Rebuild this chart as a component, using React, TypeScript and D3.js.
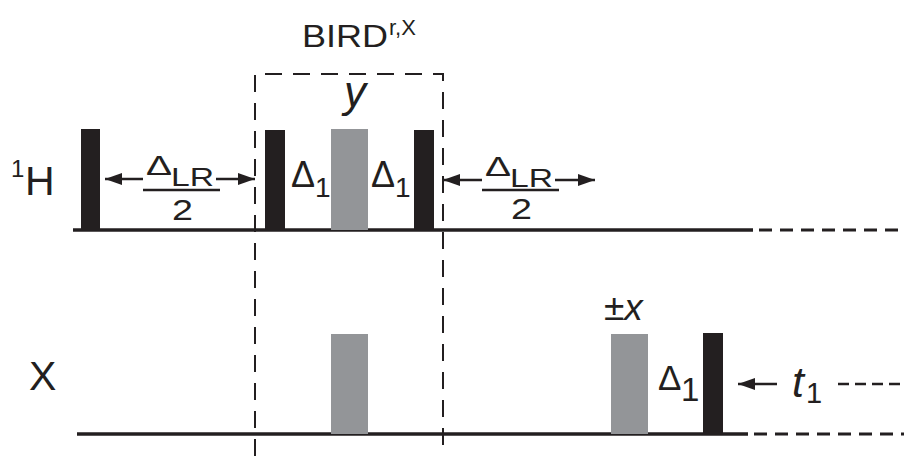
import { useEffect, useRef } from "react";
import * as d3 from "d3";

// channels of the pulse sequence and where their baselines sit
const channels = ["1H", "X"];
const baselineY = [230, 434];

// pulses: channel, start, end (time axis units), top of the pulse, kind
const pulseChannel = ["1H", "1H", "1H", "1H", "X", "X", "X"];
const pulseStart = [81, 265, 331, 414, 331, 611, 703];
const pulseEnd = [100, 285, 368, 434, 368, 648, 723];
const pulseTop = [129, 130, 129, 130, 334, 334, 333];
const pulseKind = ["hard", "hard", "soft", "hard", "soft", "soft", "hard"];

// solid part of the baselines, then dashed continuation
const solidStart = [73, 77];
const solidEnd = [753, 748];
const lineEnd = [904, 904];

// BIRD box
const birdLeft = 255;
const birdRight = 443;
const birdTop = 74;

// Δ_LR/2 delays: arrow tips and the span of the fraction
const delayFrom = [105, 443];
const delayTo = [255, 595];
const delayTextFrom = [143, 482];
const delayTextTo = [218, 557];
const delayArrowY = [179, 180];

const INK = "#231f20";
const GREY = "#939598";

function App() {
  const ref = useRef<SVGGElement | null>(null);

  useEffect(() => {
    const root = d3.select(ref.current);
    root.selectAll("*").remove();

    const x = d3.scaleLinear().domain([0, 904]).range([0, 904]);
    const y = d3.scaleOrdinal<string, number>().domain(channels).range(baselineY);

    const defs = root.append("defs");
    defs
      .append("marker")
      .attr("id", "head")
      .attr("viewBox", "0 0 17 12")
      .attr("refX", 17)
      .attr("refY", 6)
      .attr("markerWidth", 17)
      .attr("markerHeight", 12)
      .attr("markerUnits", "userSpaceOnUse")
      .attr("orient", "auto")
      .append("path")
      .attr("d", "M0,0 L17,6 L0,12 Z")
      .attr("fill", INK);

    const g = root.append("g");

    // BIRD box (dashed)
    g.append("path")
      .attr("d", `M${x(birdLeft)},456 V${birdTop} H${x(birdRight)} V456`)
      .attr("fill", "none")
      .attr("stroke", INK)
      .attr("stroke-width", 2)
      .attr("stroke-dasharray", "17,11");

    // baselines
    channels.forEach((c, i) => {
      g.append("line")
        .attr("x1", x(solidStart[i]))
        .attr("x2", x(solidEnd[i]))
        .attr("y1", y(c))
        .attr("y2", y(c))
        .attr("stroke", INK)
        .attr("stroke-width", 3.5);
      g.append("line")
        .attr("x1", x(solidEnd[i]) + 6)
        .attr("x2", x(lineEnd[i]))
        .attr("y1", y(c))
        .attr("y2", y(c))
        .attr("stroke", INK)
        .attr("stroke-width", 3)
        .attr("stroke-dasharray", "13,8");
    });

    // pulses
    g.selectAll(".pulse")
      .data(d3.range(pulseStart.length))
      .enter()
      .append("rect")
      .attr("class", "pulse")
      .attr("x", (i) => x(pulseStart[i]))
      .attr("width", (i) => x(pulseEnd[i]) - x(pulseStart[i]))
      .attr("y", (i) => pulseTop[i])
      .attr("height", (i) => y(pulseChannel[i]) - pulseTop[i])
      .attr("fill", (i) => (pulseKind[i] === "hard" ? INK : GREY));

    // Δ_LR / 2 double arrows
    delayFrom.forEach((from, i) => {
      const ay = delayArrowY[i];
      g.append("line")
        .attr("x1", x(delayTextFrom[i]))
        .attr("x2", x(from))
        .attr("y1", ay)
        .attr("y2", ay)
        .attr("stroke", INK)
        .attr("stroke-width", 2.5)
        .attr("marker-end", "url(#head)");
      g.append("line")
        .attr("x1", x(delayTextTo[i]) - 2)
        .attr("x2", x(delayTo[i]))
        .attr("y1", ay)
        .attr("y2", ay)
        .attr("stroke", INK)
        .attr("stroke-width", 2.5)
        .attr("marker-end", "url(#head)");
      g.append("line")
        .attr("x1", x(delayTextFrom[i]))
        .attr("x2", x(delayTextTo[i]) + 2)
        .attr("y1", 190)
        .attr("y2", 190)
        .attr("stroke", INK)
        .attr("stroke-width", 2.5);
    });

    // t1 arrow and dashed continuation
    g.append("line")
      .attr("x1", x(777))
      .attr("x2", x(738))
      .attr("y1", 384)
      .attr("y2", 384)
      .attr("stroke", INK)
      .attr("stroke-width", 2.5)
      .attr("marker-end", "url(#head)");
    g.append("line")
      .attr("x1", x(838))
      .attr("x2", x(904))
      .attr("y1", 384)
      .attr("y2", 384)
      .attr("stroke", INK)
      .attr("stroke-width", 2.5)
      .attr("stroke-dasharray", "11,6");
  }, []);

  const font = "'Liberation Sans', Arial, Helvetica, sans-serif";
  return (
    <svg
      width={904}
      height={456}
      style={{ position: "absolute", left: 0, top: 0, background: "#fff" }}
      fontFamily={font}
      fill={INK}
    >
      <g ref={ref}></g>
      <g>
        <text x={11} y={177} fontSize={24}>1</text>
        <text x={25} y={195} fontSize={41}>H</text>
        <text x={29} y={390} fontSize={41}>X</text>

        <text x={302} y={47} fontSize={31} textLength={86} lengthAdjust="spacingAndGlyphs">BIRD</text>
        <text x={389} y={35} fontSize={22}>r,X</text>

        <text x={355} y={107} fontSize={44} fontStyle="italic" textAnchor="middle">y</text>

        {delayTextFrom.map((t, i) => (
          <g key={i}>
            <text x={t + 3} y={175 + i} fontSize={28} textLength={26} lengthAdjust="spacingAndGlyphs">Δ</text>
            <text x={t + 28} y={186 + i} fontSize={25} textLength={43} lengthAdjust="spacingAndGlyphs">LR</text>
            <text x={t + 29} y={220 - i} fontSize={29} textLength={21} lengthAdjust="spacingAndGlyphs">2</text>
          </g>
        ))}

        <text x={291} y={187} fontSize={36}>Δ</text>
        <text x={315} y={197} fontSize={28}>1</text>
        <text x={371} y={187} fontSize={36}>Δ</text>
        <text x={395} y={197} fontSize={28}>1</text>

        <text x={604} y={320} fontSize={37}>±<tspan fontStyle="italic">x</tspan></text>

        <text x={658} y={390} fontSize={35}>Δ</text>
        <text x={681} y={401} fontSize={33}>1</text>

        <text x={792} y={397} fontSize={43} fontStyle="italic">t</text>
        <text x={806} y={403} fontSize={29}>1</text>
      </g>
    </svg>
  );
}

export default App;
